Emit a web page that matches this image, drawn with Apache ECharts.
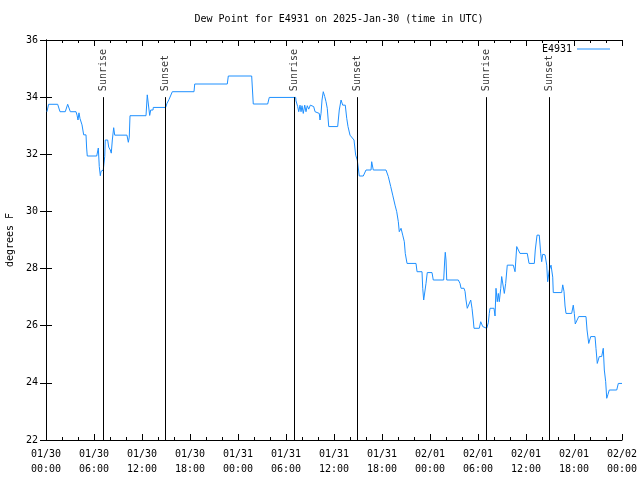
<!DOCTYPE html>
<html>
<head>
<meta charset="utf-8">
<script src="https://cdn.jsdelivr.net/npm/echarts@6/dist/echarts.min.js"></script>
<style>html,body{margin:0;padding:0;background:#fff}#c{width:640px;height:480px}</style>
</head>
<body>
<div id="c"></div>
<script>
// hours since 2025-01-30 00:00 UTC
const hours = [0.12,0.33,1.46,1.75,2.41,2.71,3.04,3.75,3.88,4.0,4.12,4.25,4.5,4.71,5.0,5.08,5.16,6.34,6.54,6.59,6.66,6.79,6.88,7.0,7.16,7.34,7.41,7.71,7.84,8.04,8.16,8.29,8.46,8.59,10.12,10.29,10.41,10.5,12.5,12.66,12.96,13.09,13.38,13.41,14.96,15.12,15.38,15.79,18.5,18.59,22.66,22.79,25.71,25.91,27.71,27.91,31.21,
31.25,31.46,31.59,31.75,31.88,32.0,32.16,32.34,32.5,32.66,32.84,33.04,33.25,33.46,33.63,33.84,34.16,34.25,34.38,34.5,34.66,34.84,35.0,35.16,35.34,36.46,36.66,36.88,37.09,37.41,37.59,37.75,38.0,38.5,38.71,38.91,39.16,39.66,40.0,40.63,40.71,40.91,42.5,42.79,43.09,43.34,43.63,43.84,44.04,44.16,44.38,44.59,44.79,44.91,45.13,46.25,46.38,47.0,47.09,47.21,47.41,47.5,47.66,48.25,48.41,49.71,49.84,49.91,50.0,50.09,51.54,51.75,51.88,52.25,52.38,52.5,52.66,52.91,53.09,53.25,53.41,53.5,54.16,54.34,54.59,54.75,55.09,55.29,55.41,55.5,56.0,56.13,56.25,56.41,56.54,56.66,56.84,56.96,57.16,57.29,57.46,57.66,58.41,58.63,58.84,59.04,59.25,60.16,60.38,61.04,61.16,61.38,61.66,61.84,61.96,62.09,62.38,62.59,62.71,62.91,63.13,63.34,63.41,64.46,64.59,64.75,64.88,65.0,65.71,65.91,66.04,66.16,66.41,66.59,67.5,67.63,67.84,68.09,68.63,68.75,68.91,69.16,69.46,69.66,69.79,69.96,70.09,70.25,70.41,71.34,71.54,72.0];
const dewPoint = [33.49,33.75,33.75,33.49,33.49,33.75,33.49,33.49,33.37,33.2,33.45,33.25,33.03,32.68,32.68,32.22,31.94,31.94,32.22,31.94,31.57,31.25,31.4,31.45,31.45,31.92,32.5,32.5,32.25,32.15,32.04,32.5,32.93,32.67,32.67,32.42,32.6,33.35,33.35,34.08,33.36,33.55,33.55,33.64,33.64,33.78,33.92,34.19,34.19,34.46,34.46,34.74,34.74,33.76,33.76,33.99,33.99,
33.87,33.67,33.49,33.72,33.49,33.7,33.43,33.72,33.49,33.7,33.58,33.72,33.75,33.67,33.49,33.43,33.43,33.2,33.43,33.9,34.19,34.02,33.84,33.61,32.97,32.97,33.55,33.9,33.72,33.72,33.26,32.97,32.67,32.5,31.97,31.8,31.24,31.24,31.45,31.45,31.74,31.45,31.45,31.22,30.87,30.57,30.22,29.99,29.64,29.29,29.41,29.17,28.94,28.53,28.18,28.18,27.89,27.89,27.31,26.9,26.9,27.48,27.86,27.86,27.6,27.6,28.3,28.57,28.3,27.6,27.6,27.48,27.31,27.31,27.2,26.9,26.61,26.61,26.9,26.61,26.2,25.91,25.91,26.14,25.97,25.91,25.91,26.1,26.43,26.61,26.61,26.34,27.31,26.84,27.13,26.84,27.3,27.72,27.72,27.13,27.48,28.12,28.12,27.89,28.77,28.77,28.53,28.53,28.18,28.18,28.65,29.17,29.17,28.53,28.24,28.5,28.48,28.12,27.54,27.95,28.12,27.7,27.16,27.16,27.43,27.2,26.69,26.43,26.43,26.72,26.43,26.06,26.06,26.32,26.32,25.85,25.38,25.62,25.62,25.2,24.68,24.92,24.92,25.21,24.45,24.04,23.46,23.6,23.75,23.75,23.98,23.98];
const eventHours = [7.12, 14.88, 31.0, 38.9, 55.0, 62.9];
const eventNames = ['Sunrise','Sunset','Sunrise','Sunset','Sunrise','Sunset'];
const xTickLabels = ['01/30\n00:00','01/30\n06:00','01/30\n12:00','01/30\n18:00','01/31\n00:00','01/31\n06:00','01/31\n12:00','01/31\n18:00','02/01\n00:00','02/01\n06:00','02/01\n12:00','02/01\n18:00','02/02\n00:00'];
const seriesName = 'E4931';

const FONT = '"DejaVu Sans Mono", "Liberation Mono", monospace';
const chart = echarts.init(document.getElementById('c'), null, {renderer: 'canvas'});
const lineData = hours.map((h, i) => [h, dewPoint[i]]);
const axisCommon = {
  axisLine: {show: true, lineStyle: {color: '#000', width: 1}},
  splitLine: {show: false}
};
chart.setOption({
  animation: false,
  backgroundColor: '#fff',
  title: {
    text: 'Dew Point for E4931 on 2025-Jan-30 (time in UTC)',
    left: 334, top: 9, textAlign: 'center',
    textStyle: {fontFamily: FONT, fontSize: 10, fontWeight: 'normal', color: '#000'}
  },
  legend: {
    right: 30, top: 44, padding: 0, align: 'right', itemWidth: 33, itemHeight: 1, itemGap: 5,
    icon: 'rect',
    textStyle: {fontFamily: FONT, fontSize: 10, color: '#000'},
    itemStyle: {color: '#1e90ff'},
    data: [{name: seriesName, icon: 'rect', itemStyle: {color: '#1e90ff'}}]
  },
  grid: {left: 46, right: 18, top: 40, bottom: 40, containLabel: false, outerBoundsMode: 'none'},
  xAxis: [
    Object.assign({}, axisCommon, {
      type: 'value', min: 0, max: 72, interval: 6, position: 'bottom',
      axisTick: {show: true, inside: true, length: 6, lineStyle: {color: '#000'}},
      minorTick: {show: true, splitNumber: 3, length: 3, lineStyle: {color: '#000'}},
      axisLabel: {show: true, margin: 7, fontFamily: FONT, fontSize: 10, color: '#000', lineHeight: 15,
        showMinLabel: true, showMaxLabel: true,
        formatter: v => xTickLabels[Math.round(v / 6)] || ''}
    }),
    Object.assign({}, axisCommon, {
      type: 'value', min: 0, max: 72, interval: 6, position: 'top',
      axisTick: {show: true, inside: true, length: 6, lineStyle: {color: '#000'}},
      minorTick: {show: true, splitNumber: 3, length: 3, lineStyle: {color: '#000'}},
      axisLabel: {show: false}
    })
  ],
  yAxis: [
    Object.assign({}, axisCommon, {
      type: 'value', min: 22, max: 36, interval: 2, position: 'left',
      name: 'degrees F', nameLocation: 'middle', nameGap: 31, nameRotate: 90,
      nameTextStyle: {fontFamily: FONT, fontSize: 10, color: '#000'},
      axisTick: {show: true, inside: true, length: 6, lineStyle: {color: '#000'}},
      axisLabel: {show: true, margin: 8, fontFamily: FONT, fontSize: 10, color: '#000'}
    }),
    Object.assign({}, axisCommon, {
      type: 'value', min: 22, max: 36, interval: 2, position: 'right',
      axisTick: {show: true, inside: true, length: 6, lineStyle: {color: '#000'}},
      axisLabel: {show: false}
    })
  ],
  series: [
    {
      name: seriesName, type: 'line', data: lineData, showSymbol: false, symbol: 'none',
      lineStyle: {color: '#1e90ff', width: 1}, itemStyle: {color: '#1e90ff'}, z: 3
    },
    {
      name: 'events', type: 'scatter', symbolSize: 0, silent: true,
      data: eventHours.map((h, i) => ({name: eventNames[i], value: [h, 34]})),
      label: {show: true, formatter: p => p.name, rotate: 90, position: [0, -6],
        align: 'left', verticalAlign: 'middle', fontFamily: FONT, fontSize: 10, color: '#000'},
      markLine: {
        silent: true, symbol: ['none', 'none'], animation: false,
        label: {show: false},
        lineStyle: {color: '#000', width: 1, type: 'solid'},
        data: eventHours.map(h => [{coord: [h, 34]}, {coord: [h, 22]}])
      },
      z: 2
    }
  ]
});
</script>
</body>
</html>
